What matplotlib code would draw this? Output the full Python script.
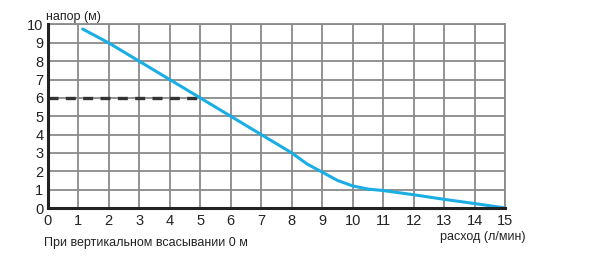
import matplotlib.pyplot as plt

plt.rcParams['font.family'] = ['Liberation Sans', 'DejaVu Sans']

# Pump curve
flow = [1.15, 2, 3, 4, 5, 6, 7, 8, 8.5, 9, 9.5, 10, 10.5, 11, 12, 13, 14, 15]
head = [9.75, 9.0, 8.0, 7.0, 6.0, 5.0, 4.0, 3.0, 2.4, 1.95, 1.5, 1.2, 1.03, 0.95, 0.72, 0.47, 0.24, 0.0]
ref_flow = [0, 5]
ref_head = [6, 6]
x_ticks = list(range(0, 16))
y_ticks = list(range(0, 11))

fig = plt.figure(figsize=(5.97, 2.56), dpi=100)
ax = fig.add_axes([0.0796, 0.1875, 0.7671, 0.717])

ax.set_xlim(0, 15)
ax.set_ylim(0, 10)
ax.set_xticks(x_ticks)
ax.set_yticks(y_ticks)
ax.grid(True, color='#8a8a8a', linewidth=1.3)
ax.set_axisbelow(True)

for side in ['top', 'right']:
    ax.spines[side].set_color('#8a8a8a')
    ax.spines[side].set_linewidth(1.3)
for side in ['left', 'bottom']:
    ax.spines[side].set_color('#222222')
    ax.spines[side].set_linewidth(2.2)
    ax.spines[side].set_zorder(5)

ax.tick_params(length=0, labelsize=10.5, colors='#222222', pad=4)
ax.tick_params(axis='y', pad=3)

ax.plot(ref_flow, ref_head, color='#333333', linewidth=2.4, linestyle=(0, (3, 2.2)), zorder=3)
ax.plot(flow, head, color='#1aaee5', linewidth=2.2, solid_capstyle='round', zorder=4)

ax.text(-0.05, 10.4, 'напор (м)', fontsize=9, ha='left', va='center', color='#222222', clip_on=False)
ax.text(15.65, -1.58, 'расход (л/мин)', fontsize=9, ha='right', va='center', color='#222222')
ax.text(-0.1, -1.92, 'При вертикальном всасывании 0 м', fontsize=9, ha='left', va='center', color='#222222')

fig.savefig('out.png', dpi=100)
